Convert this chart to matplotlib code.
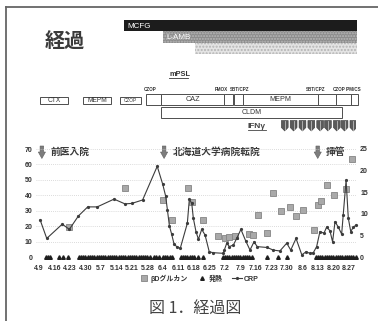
import matplotlib
matplotlib.use("Agg")
import matplotlib.pyplot as plt
from matplotlib.patches import Rectangle, Polygon
from matplotlib.lines import Line2D

LATIN_JP = ['Liberation Sans', 'Noto Sans CJK JP', 'DejaVu Sans']
JP = ['Noto Sans CJK JP', 'DejaVu Sans']
plt.rcParams['font.family'] = LATIN_JP

# ---------------- data (x = days counted from 4/9) ----------------
tick_days = [0, 7, 14, 21, 28, 35, 42, 49, 56, 63, 70, 77, 84, 91, 98,
             105, 112, 119, 126, 133, 140]
tick_labels = ['4.9', '4.16', '4.23', '4.30', '5.7', '5.14', '5.21', '5.28',
               '6.4', '6.11', '6.18', '6.25', '7.2', '7.9', '7.16', '7.23',
               '7.30', '8.6', '8.13', '8.20', '8.27']

crp_day = [0.5, 3.5, 10.5, 13.7, 17.8, 22, 26.3, 33.9, 38.8, 41.9,
           46.8, 53.4, 55.9, 57.2, 58, 58.9, 59.9, 61, 62.2, 63.8,
           67, 67.9, 69, 69.7, 70.9, 72, 73.5, 75, 76.9, 78.7,
           83.2, 83.7, 84.8, 86, 87.8, 89.3, 91.2, 93.3, 95.3, 97.1,
           98.6, 103.1, 105.8, 108.8, 111.9, 113.7, 116.1, 118.7, 120.6, 122.4,
           123.9, 125.4, 126.9, 128.7, 129.9, 131.4, 132.6, 133.7, 135.2, 136.7,
           137.4, 138.7, 139.7, 140.8, 142, 143.2]
crp = [8.6, 4.3, 7.6, 6.4, 9.5, 11.6, 11.6, 13.4, 12.3, 12.4,
       13.2, 21.0, 16.8, 14.1, 10.9, 7.2, 5.3, 3.0, 2.4, 2.0,
       7.8, 13.4, 12.4, 9.0, 5.9, 4.1, 6.4, 5.1, 1.2, 1.0,
       0.85, 1.6, 3.2, 2.4, 2.8, 4.3, 6.4, 3.8, 1.6, 3.5,
       2.4, 2.2, 1.6, 1.4, 3.2, 1.6, 4.3, 0.5, 1.2, 0.85,
       1.0, 2.4, 5.9, 5.5, 6.9, 6.1, 3.5, 8.2, 6.9, 5.3,
       9.7, 17.8, 9.0, 5.9, 6.9, 7.4]

bdg_day = [13.7, 38.8, 55.9, 59.9, 67.2, 69, 73.9, 81, 84, 86,
           88.5, 95, 96.5, 99, 102.8, 105.8, 109.2, 113.4, 116.1, 119.4,
           124.2, 126.2, 127.2, 130.2, 133.2, 138.7, 141.2]
bdg = [19.4, 44.9, 37, 24, 44.5, 35.5, 24.2, 13.3, 12.2, 12.9,
       13.7, 14.8, 14.4, 27.5, 15.5, 41.6, 29.6, 32.5, 26.8, 30.7,
       17.2, 34, 36.6, 46.4, 39.9, 44.2, 63.4]

# fever periods (first day, last day)
fever_spans = [(3, 5), (9, 9), (11, 11), (13, 13), (18, 50), (52, 54),
               (56, 60), (64, 70), (72, 72), (74, 74), (83, 96),
               (103, 103), (108, 108), (112, 112), (125, 143)]

antifungal_names = ['MCFG', 'L-AMB', '']
antifungal_start = [38.4, 56.0, 70.5]
antifungal_end = [143.6, 143.6, 143.6]

abx_names = ['CTX', 'MEPM', 'CZOP', 'CZOP', 'CAZ', 'FMOX', 'SBT/CPZ',
             'MEPM', 'SBT/CPZ', 'CZOP', 'IPM/CS']
abx_start = [0.45, 19.9, 36.6, 48.3, 55.1, 83.6, 88.3, 92.1, 126.0, 134.1, 141.1]
abx_end = [13.1, 32.5, 46.1, 55.1, 83.6, 87.6, 92.1, 126.0, 134.1, 141.1, 143.9]

cldm_start, cldm_end = 55.1, 136.9
ifn_days = [111, 115, 119, 123, 127, 130.5, 134.5, 138, 142]

event_labels = ['前医入院', '北海道大学病院転院', '挿管']
event_days = [1.3, 56.5, 125.9]

# ---------------- layout ----------------
W, H = 378, 321
fig = plt.figure(figsize=(W / 100, H / 100), dpi=100)
fig.patch.set_facecolor('white')

AX_L, AX_R, AX_T, AX_B = 36, 356, 149, 257
PX0, PX_PER_DAY = 39.0, 2.214
XLIM = ((AX_L - PX0) / PX_PER_DAY, (AX_R - PX0) / PX_PER_DAY)


def day(px):
    return (px - PX0) / PX_PER_DAY


def fx(px):
    return px / W


def fy(py):
    return 1 - py / H


TXT = '#333333'

# frame lines
fig.add_artist(Line2D([fx(5.5), fx(5.5)], [fy(7), 0], color='#666666', lw=1.3))
fig.add_artist(Line2D([fx(5.5), 1], [fy(7), fy(7)], color='#666666', lw=1.3))

# ---------------- treatment schedule (y in pixel rows) ----------------
sch = fig.add_axes([fx(AX_L), 0, (AX_R - AX_L) / W, 1], zorder=0)
sch.set_xlim(XLIM)
sch.set_ylim(H, 0)
sch.axis('off')
sch.patch.set_alpha(0)

bar_rows = [(20, 11), (31, 12), (43, 11)]
bar_faces = ['#1c1c1c', '#8c8c8c', '#e4e4e4']
bar_hatch = [None, '......', '.....']
bar_hcol = ['#1c1c1c', '#b8b8b8', '#b4b4b4']
for name, s, e, (y0, h), fc, ht, hc in zip(antifungal_names, antifungal_start,
                                          antifungal_end, bar_rows, bar_faces,
                                          bar_hatch, bar_hcol):
    sch.add_patch(Rectangle((s, y0), e - s, h, facecolor=fc, edgecolor=hc,
                            hatch=ht, lw=0, clip_on=False))
    if name:
        sch.text(s + day(PX0 + 3.5), y0 + h / 2 + 0.5, name, fontsize=5.8,
                 color='white', va='center', ha='left', clip_on=False)

# mPSL
sch.text(day(169), 74.5, 'mPSL', fontsize=5.3, color=TXT, va='center',
         ha='left', fontweight='bold')
sch.plot([day(169), day(187.5)], [78, 78], color=TXT, lw=0.6, clip_on=False)

# antibiotic boxes
top_label_px = {3: 150, 5: 221, 6: 239.5, 8: 316, 9: 339, 10: 354}
for i, (name, s, e) in enumerate(zip(abx_names, abx_start, abx_end)):
    if i < 3:
        y0, h = 96.5, 7.5
    else:
        y0, h = 94, 11
    sch.add_patch(Rectangle((s, y0), e - s, h, facecolor='white',
                            edgecolor='#4d4d4d', lw=0.7, clip_on=False))
    if i in top_label_px:
        sch.text(day(top_label_px[i]), 89.5, name, fontsize=3.3, color=TXT,
                 ha='center', va='center', fontweight='bold')
    else:
        fs = 3.4 if (e - s) < 10 else (5.2 if i >= 3 else 4.8)
        sch.text((s + e) / 2, y0 + h / 2 + 0.3, name, fontsize=fs, color=TXT,
                 ha='center', va='center')

# CLDM
sch.add_patch(Rectangle((cldm_start, 107), cldm_end - cldm_start, 10.5,
                        facecolor='white', edgecolor='#4d4d4d', lw=0.7))
sch.text((cldm_start + cldm_end) / 2, 112.4, 'CLDM', fontsize=5, color=TXT,
         ha='center', va='center')

# IFN-gamma doses
sch.text(day(248), 126, 'IFNγ', fontsize=6, color='#444444', va='center',
         ha='left', fontweight='bold')
sch.plot([day(248), day(265.5)], [130, 130], color='#444444', lw=0.6)
hw = 3.4 / PX_PER_DAY
for d in ifn_days:
    sch.add_patch(Polygon([(d - hw, 120.5), (d + hw, 120.5), (d + hw, 127.5),
                           (d, 131), (d - hw, 127.5)], closed=True,
                          facecolor='#5a5a5a', edgecolor='#3a3a3a', lw=0.4))
    sch.plot([d, d], [121, 129.5], color='#bdbdbd', lw=0.6)

# clinical events
aw, hw2 = 1.8 / PX_PER_DAY, 3.6 / PX_PER_DAY
for lab, d in zip(event_labels, event_days):
    sch.add_patch(Polygon([(d - aw, 146), (d + aw, 146), (d + aw, 152),
                           (d + hw2, 152), (d, 158.5), (d - hw2, 152),
                           (d - aw, 152)], closed=True, facecolor='#7d7d7d',
                          edgecolor='#5f5f5f', lw=0.4, zorder=5))
    sch.text(d + 8.5 / PX_PER_DAY, 152, lab, fontsize=7, color='#3a3a3a',
             fontweight='bold', family=JP, ha='left', va='center', zorder=5)

# title and caption
fig.text(fx(65), fy(41), '経過', fontsize=14.5, family=JP, fontweight='bold',
         color='#3a3a3a', ha='center', va='center')
fig.text(fx(195), fy(309), '図 1．経過図', fontsize=11.5, family=JP,
         color='#444444', ha='center', va='center')

# ---------------- chart ----------------
ax = fig.add_axes([fx(AX_L), fy(AX_B), (AX_R - AX_L) / W, (AX_B - AX_T) / H],
                  zorder=2)
ax.patch.set_visible(False)
ax2 = ax.twinx()
for a in (ax, ax2):
    for sp in a.spines.values():
        sp.set_visible(False)
ax.set_xlim(XLIM)
ax.set_ylim(0, 70)
ax2.set_ylim(0, 25)
ax.set_yticks(range(0, 71, 10))
ax2.set_yticks(range(0, 26, 5))
ax.set_xticks(tick_days)
ax.set_xticklabels(tick_labels)
ax.tick_params(axis='y', length=0, pad=2.3, labelsize=5, labelcolor=TXT)
ax.tick_params(axis='x', length=0, pad=6, labelsize=5, labelcolor=TXT)
ax2.tick_params(axis='y', length=0, pad=3, labelsize=5, labelcolor=TXT)
for lab in ax.get_xticklabels() + ax.get_yticklabels() + ax2.get_yticklabels():
    lab.set_fontweight('bold')
ax.yaxis.grid(True, linestyle=(0, (1, 1.5)), color='#cfcfcf', lw=0.6)
ax.set_axisbelow(True)

fever_days = [d for a, b in fever_spans for d in range(a, b + 1)]
h_fev, = ax.plot(fever_days, [0] * len(fever_days), ls='none', marker='^',
                 ms=2.6, color='#1e1e1e', clip_on=False, zorder=3)
h_bdg, = ax.plot(bdg_day, bdg, ls='none', marker='s', ms=3.7,
                 markerfacecolor='#a9a9a9', markeredgecolor='#858585',
                 markeredgewidth=0.6, clip_on=False, zorder=3)
h_crp, = ax2.plot(crp_day, crp, color='#3c3c3c', lw=0.8, marker='o', ms=1.3,
                  clip_on=False, zorder=4)

ax.legend([h_bdg, h_fev, h_crp], ['βDグルカン', '発熱', 'CRP'],
          loc='center', bbox_to_anchor=(fx(199), fy(278.5)),
          bbox_transform=fig.transFigure, ncol=3, frameon=False,
          handlelength=1.4, handletextpad=0.3, columnspacing=1.3,
          prop={'family': LATIN_JP, 'size': 5, 'weight': 'bold'},
          labelcolor=TXT, borderpad=0)

fig.savefig('out.png', dpi=100, facecolor='white')
